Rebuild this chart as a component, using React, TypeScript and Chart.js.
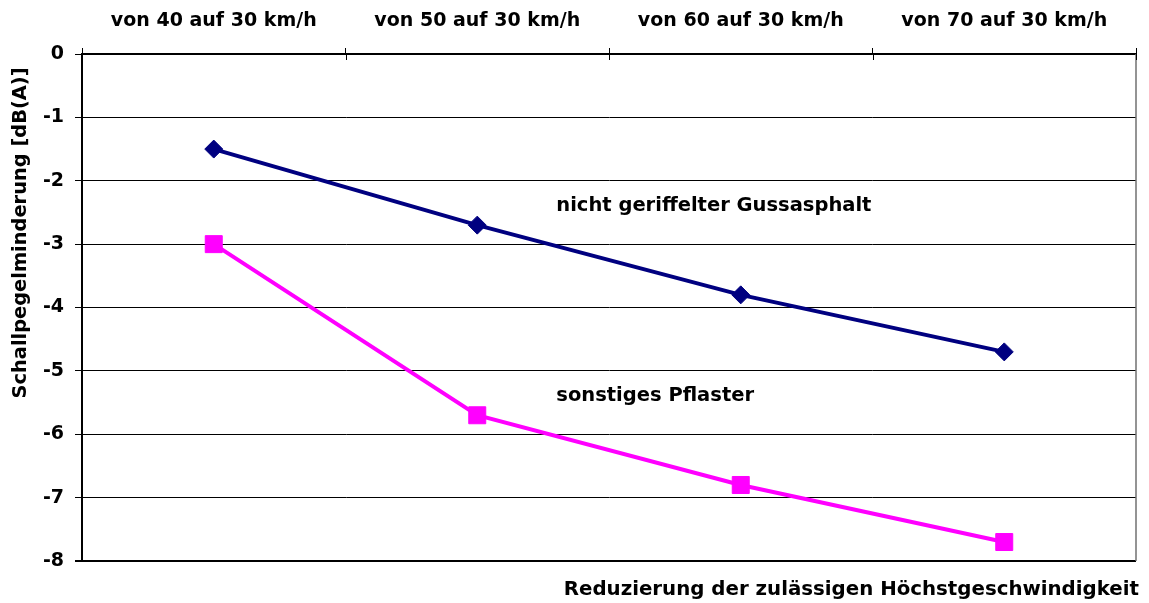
import React, { useEffect, useRef } from 'react';
import { Chart, registerables } from 'chart.js';

Chart.register(...registerables);

const categories = ['von 40 auf 30 km/h', 'von 50 auf 30 km/h', 'von 60 auf 30 km/h', 'von 70 auf 30 km/h'];
const gussasphalt = [-1.5, -2.7, -3.8, -4.7];
const pflaster = [-3.0, -5.7, -6.8, -7.7];
const yTicks = [0, -1, -2, -3, -4, -5, -6, -7, -8];
const seriesNames = ['nicht geriffelter Gussasphalt', 'sonstiges Pflaster'];
const yTitle = 'Schallpegelminderung [dB(A)]';
const xTitle = 'Reduzierung der zulässigen Höchstgeschwindigkeit';
// label anchors in data units (category index, dB value)
const labelAnchors = [
  { x: 1.3, y: -2.4 },
  { x: 1.3, y: -5.4 },
];

const FAMILY = '"DejaVu Sans", "Liberation Sans", Arial, sans-serif';

const decorations = {
  id: 'decorations',
  afterDraw(chart: any) {
    const { ctx, chartArea, scales } = chart;
    const xs = scales.x;
    const ys = scales.y;
    ctx.save();
    // right border of plot area
    ctx.strokeStyle = '#707070';
    ctx.lineWidth = 1.5;
    ctx.beginPath();
    ctx.moveTo(chartArea.right, chartArea.top);
    ctx.lineTo(chartArea.right, chartArea.bottom);
    ctx.stroke();
    // inner part of category boundary ticks
    ctx.strokeStyle = '#000';
    ctx.lineWidth = 1;
    for (let i = 0; i <= categories.length; i++) {
      const px = Math.round(xs.getPixelForValue(i - 0.5)) + 0.5;
      ctx.beginPath();
      ctx.moveTo(px, chartArea.top);
      ctx.lineTo(px, chartArea.top + 6);
      ctx.stroke();
    }
    // series labels
    ctx.font = `bold 19.5px ${FAMILY}`;
    ctx.fillStyle = '#000';
    ctx.textAlign = 'left';
    ctx.textBaseline = 'middle';
    seriesNames.forEach((name, i) => {
      ctx.fillText(name, xs.getPixelForValue(labelAnchors[i].x), ys.getPixelForValue(labelAnchors[i].y));
    });
    ctx.restore();
  },
};

export default function App() {
  const ref = useRef<HTMLCanvasElement | null>(null);

  useEffect(() => {
    if (!ref.current) return;
    const chart = new Chart(ref.current, {
      type: 'line',
      data: {
        labels: categories,
        datasets: [
          {
            label: seriesNames[0],
            data: gussasphalt,
            borderColor: '#000080',
            backgroundColor: '#000080',
            borderWidth: 4,
            pointStyle: 'rectRot',
            pointRadius: 9,
            pointBorderWidth: 1,
            tension: 0,
          },
          {
            label: seriesNames[1],
            data: pflaster,
            borderColor: '#FF00FF',
            backgroundColor: '#FF00FF',
            borderWidth: 4,
            pointStyle: 'rect',
            pointRadius: 12,
            pointBorderWidth: 1,
            tension: 0,
          },
        ],
      },
      options: {
        responsive: false,
        animation: false,
        layout: { padding: { left: 0, right: 10, top: 0, bottom: 0 } },
        plugins: {
          legend: { display: false },
          tooltip: { enabled: false },
          title: {
            display: true,
            position: 'bottom',
            align: 'end',
            text: xTitle,
            color: '#000',
            font: { family: FAMILY, size: 19.8, weight: 'bold' },
            padding: { top: 17, bottom: 1.2 },
          },
        },
        scales: {
          x: {
            type: 'category',
            position: 'top',
            offset: true,
            afterFit: (s: any) => {
              s.height = 54;
            },
            grid: {
              offset: true,
              drawOnChartArea: false,
              tickLength: 6,
              color: '#000',
              lineWidth: 1,
            },
            border: { color: '#000', width: 1.5 },
            ticks: {
              color: '#000',
              font: { family: FAMILY, size: 19, weight: 'bold' },
              padding: 16,
              maxRotation: 0,
              autoSkip: false,
            },
          },
          y: {
            type: 'linear',
            min: -8,
            max: 0,
            afterFit: (s: any) => {
              s.width = 82;
            },
            afterBuildTicks: (s: any) => {
              s.ticks = [...yTicks].sort((a, b) => a - b).map((v) => ({ value: v }));
            },
            grid: {
              color: '#000',
              lineWidth: (c: any) => (c.tick && c.tick.value === -8 ? 2 : 1),
              tickLength: 7,
            },
            border: { color: '#000', width: 2 },
            ticks: {
              color: '#000',
              font: { family: FAMILY, size: 19, weight: 'bold' },
              padding: 11,
              callback: (v: any) => String(v),
            },
            title: {
              display: true,
              text: yTitle + '  ',
              align: 'end',
              color: '#000',
              font: { family: FAMILY, size: 19.4, weight: 'bold' },
              padding: { top: 9, bottom: 0 },
            },
          },
        },
      },
      plugins: [decorations],
    } as any);
    return () => chart.destroy();
  }, []);

  return (
    <div style={{ position: 'fixed', left: 0, top: 0, width: 1149, height: 603, background: '#fff' }}>
      <canvas ref={ref} width={1149} height={603} />
    </div>
  );
}
